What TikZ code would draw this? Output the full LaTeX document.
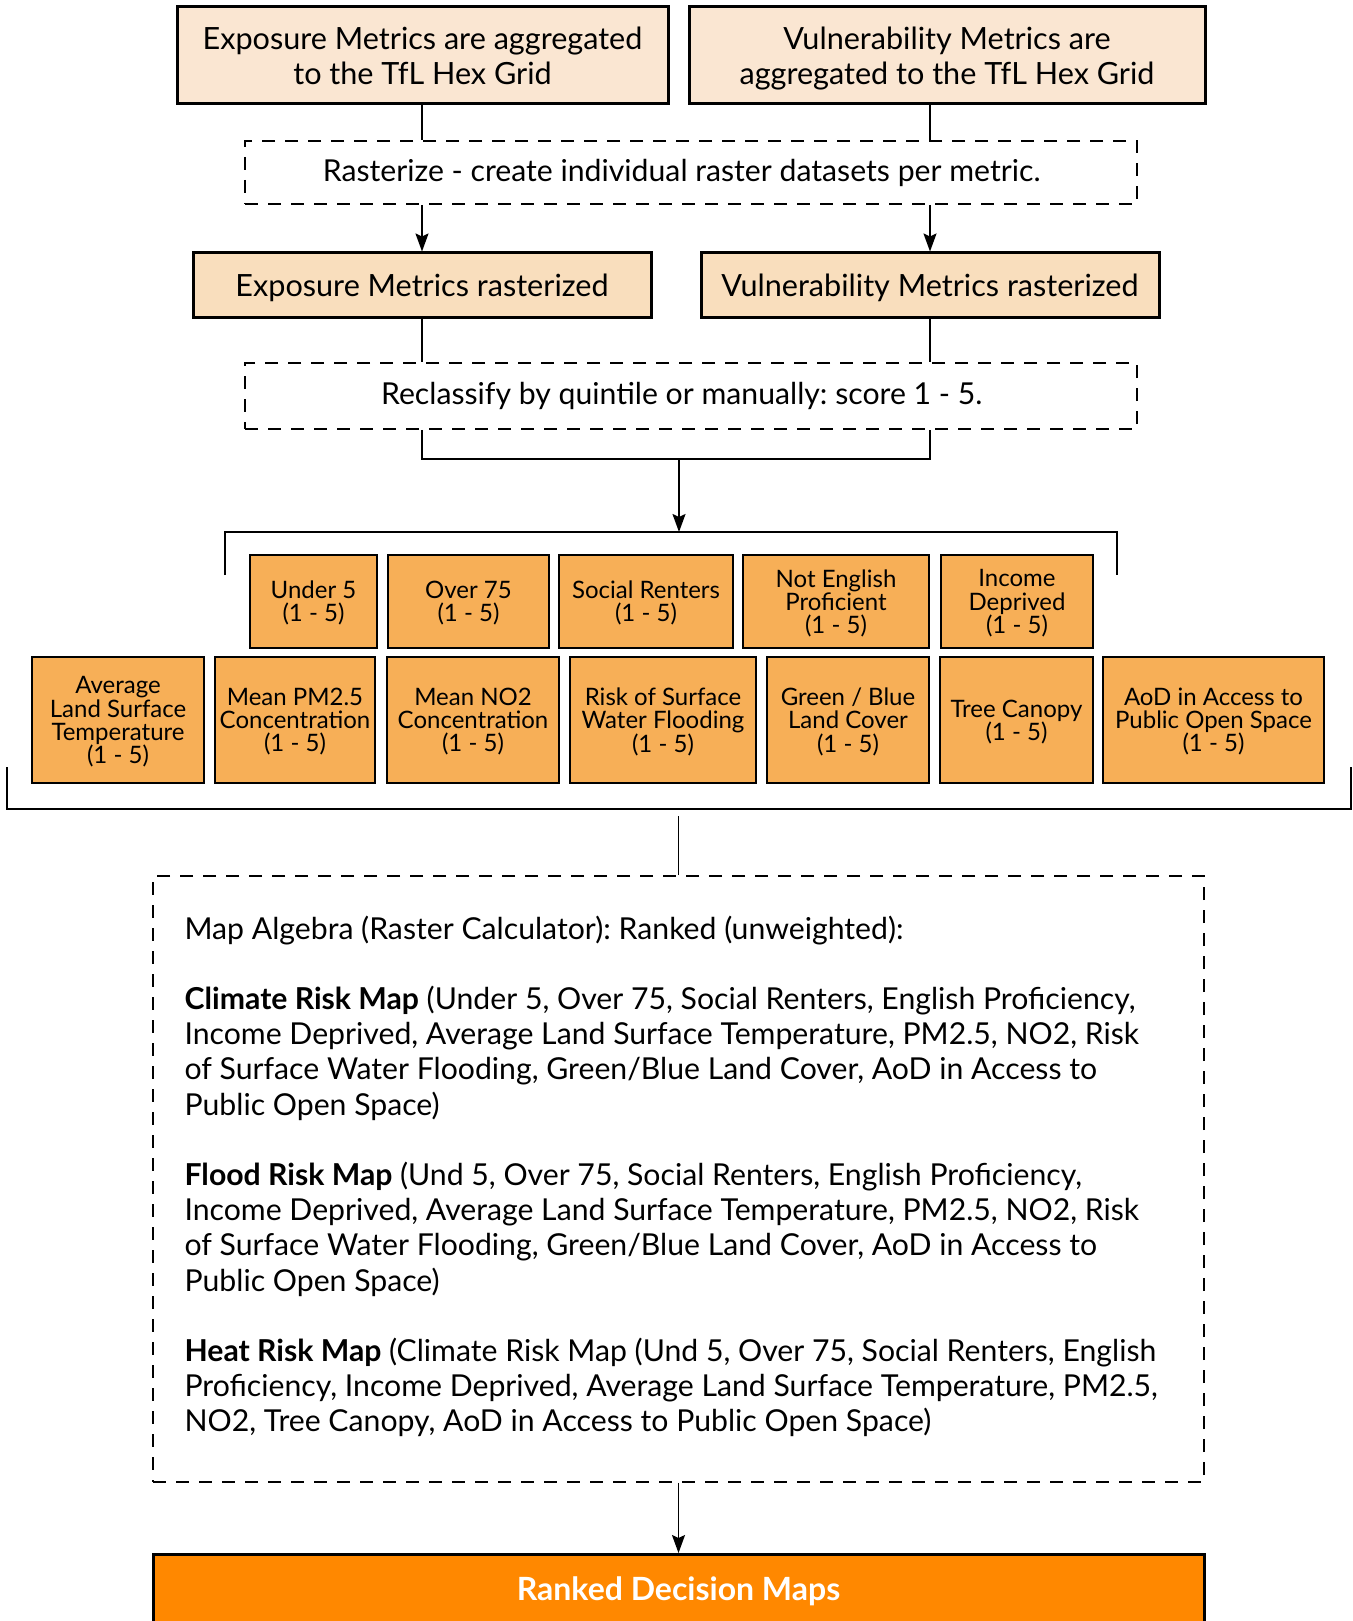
\documentclass[tikz,border=0pt]{standalone}
\usepackage{fontspec}
\setmainfont{Lato}
\frenchspacing
\usetikzlibrary{arrows.meta, positioning}
\definecolor{HexPeach}{HTML}{FAE6D2}
\definecolor{RasterPeach}{HTML}{F9DEBD}
\definecolor{MetricOrange}{HTML}{F7AF57}
\definecolor{OutputOrange}{HTML}{FF8800}

\begin{document}
\begin{tikzpicture}[x=0.5pt,y=-0.5pt,
  hexbox/.style={draw,line width=1.5pt,fill=HexPeach,align=center,inner sep=0pt,
    text depth=0pt,font=\fontsize{15.3}{17.5}\selectfont},
  rastbox/.style={hexbox,fill=RasterPeach},
  stepnote/.style={draw,line width=0.8pt,dash pattern=on 6.5pt off 5pt,inner sep=0pt,
    font=\fontsize{15.1}{17.5}\selectfont},
  metric/.style={draw,line width=1.3pt,fill=MetricOrange,align=center,inner sep=0pt,
    text depth=0pt,font=\fontsize{12}{11.6}\selectfont},
  link/.style={line width=0.9pt},
  flow/.style={line width=0.9pt,-{Stealth[length=9pt,width=6.5pt,inset=1.5pt]}}]
\useasboundingbox (0,0) rectangle (1353,1621);

% aggregation
\node[hexbox,minimum width=245.5pt,minimum height=48.5pt] (expagg) at (422.5,55.5)
  {Exposure Metrics are aggregated\\to the TfL Hex Grid};
\node[hexbox,minimum width=258pt,minimum height=48.5pt] (vulagg) at (947,55.5)
  {Vulnerability Metrics are\\aggregated to the TfL Hex Grid};
\node[stepnote,minimum width=446pt,minimum height=31.5pt] (raster) at (691,172.5)
  {Rasterize - create individual raster datasets per metric.\hspace*{9.3pt}};

% rasterized
\node[rastbox,minimum width=229pt,minimum height=32pt] (exprast) at (422,285)
  {Exposure Metrics rasterized};
\node[rastbox,minimum width=229pt,minimum height=32pt] (vulrast) at (930,285)
  {Vulnerability Metrics rasterized};
\node[stepnote,minimum width=446pt,minimum height=33pt] (reclass) at (691,396)
  {Reclassify by quintile or manually: score 1 - 5.\hspace*{9.3pt}};

\draw[link] (exprast.north |- expagg.south) -- (exprast.north |- raster.north);
\draw[link] (vulrast.north |- vulagg.south) -- (vulrast.north |- raster.north);
\draw[flow] (exprast.north |- raster.south) -- (exprast.north);
\draw[flow] (vulrast.north |- raster.south) -- (vulrast.north);
\draw[link] (exprast.south) -- (exprast.south |- reclass.north);
\draw[link] (vulrast.south) -- (vulrast.south |- reclass.north);

% scored metrics, upper row
\node[metric,minimum width=63.5pt,minimum height=46.5pt] (under) at (313.5,601.5) {Under 5\\(1 - 5)};
\node[metric,minimum width=80.5pt,minimum height=46.5pt] (over) at (468.5,601.5) {Over 75\\(1 - 5)};
\node[metric,minimum width=87pt,minimum height=46.5pt] (renters) at (646,601.5) {Social Renters\\(1 - 5)};
\node[metric,minimum width=93pt,minimum height=46.5pt] (english) at (836,601.5) {Not English\\Proficient\\(1 - 5)};
\node[metric,minimum width=76pt,minimum height=46.5pt] (income) at (1017,601.5) {Income\\Deprived\\(1 - 5)};

% scored metrics, lower row
\node[metric,minimum width=86pt,minimum height=63pt] (lst) at (118,720) {Average\\Land Surface\\Temperature\\(1 - 5)};
\node[metric,minimum width=80pt,minimum height=63pt] (pm) at (295,720) {Mean PM2.5\\Concentration\\(1 - 5)};
\node[metric,minimum width=86pt,minimum height=63pt] (no2) at (473,720) {Mean NO2\\Concentration\\(1 - 5)};
\node[metric,minimum width=93pt,minimum height=63pt] (flood) at (663,720) {Risk of Surface\\Water Flooding\\(1 - 5)};
\node[metric,minimum width=81pt,minimum height=63pt] (green) at (848,720) {Green / Blue\\Land Cover\\(1 - 5)};
\node[metric,minimum width=76.5pt,minimum height=63pt] (tree) at (1016.5,720) {Tree Canopy\\(1 - 5)};
\node[metric,minimum width=110.5pt,minimum height=63pt] (aod) at (1213.5,720) {AoD in Access to\\Public Open Space\\(1 - 5)};

% brackets
\coordinate (joinleft) at (exprast.south |- 0,459);
\coordinate (joinmid) at (679,459);
\coordinate (topmid) at (679,532);
\draw[link] (exprast.south |- reclass.south) -- (joinleft) -- (vulrast.south |- joinleft)
  -- (vulrast.south |- reclass.south);
\draw[flow] (joinmid) -- (topmid);
\draw[link] (225,575) -- (225,532) -- (1117,532) -- (1117,575);
\draw[link] (7,767) -- (7,809) -- (1351,809) -- (1351,767);

% map algebra
\node[stepnote,minimum width=525.5pt,minimum height=303pt] (algebra) at (678.5,1179) {};
\node[anchor=west,align=left,inner sep=0pt,font=\fontsize{15.1}{17.6}\selectfont]
  (algebratext) at ([xshift=16pt,yshift=1.3pt]algebra.west) {%
  Map Algebra (Raster Calculator): Ranked (unweighted):\\[17.6pt]
  \textbf{Climate Risk Map} (Under 5, Over 75, Social Renters, English Proficiency,\\
  Income Deprived, Average Land Surface Temperature, PM2.5, NO2, Risk\\
  of Surface Water Flooding, Green/Blue Land Cover, AoD in Access to\\
  Public Open Space)\\[17.6pt]
  \textbf{Flood Risk Map} (Und 5, Over 75, Social Renters, English Proficiency,\\
  Income Deprived, Average Land Surface Temperature, PM2.5, NO2, Risk\\
  of Surface Water Flooding, Green/Blue Land Cover, AoD in Access to\\
  Public Open Space)\\[17.6pt]
  \textbf{Heat Risk Map} (Climate Risk Map (Und 5, Over 75, Social Renters, English\\
  Proficiency, Income Deprived, Average Land Surface Temperature, PM2.5,\\
  NO2, Tree Canopy, AoD in Access to Public Open Space)};
\coordinate (algebrain) at (algebra.north |- 0,816);
\draw[link] (algebrain) -- (algebra.north);

% output
\node[draw,line width=1.5pt,fill=OutputOrange,text=white,anchor=north,
      minimum width=525.5pt,minimum height=37pt,
      font=\fontsize{16}{18}\selectfont\bfseries] (ranked) at (678.5,1553) {Ranked Decision Maps};
\draw[flow] (algebra.south) -- (ranked.north);
\end{tikzpicture}
\end{document}
